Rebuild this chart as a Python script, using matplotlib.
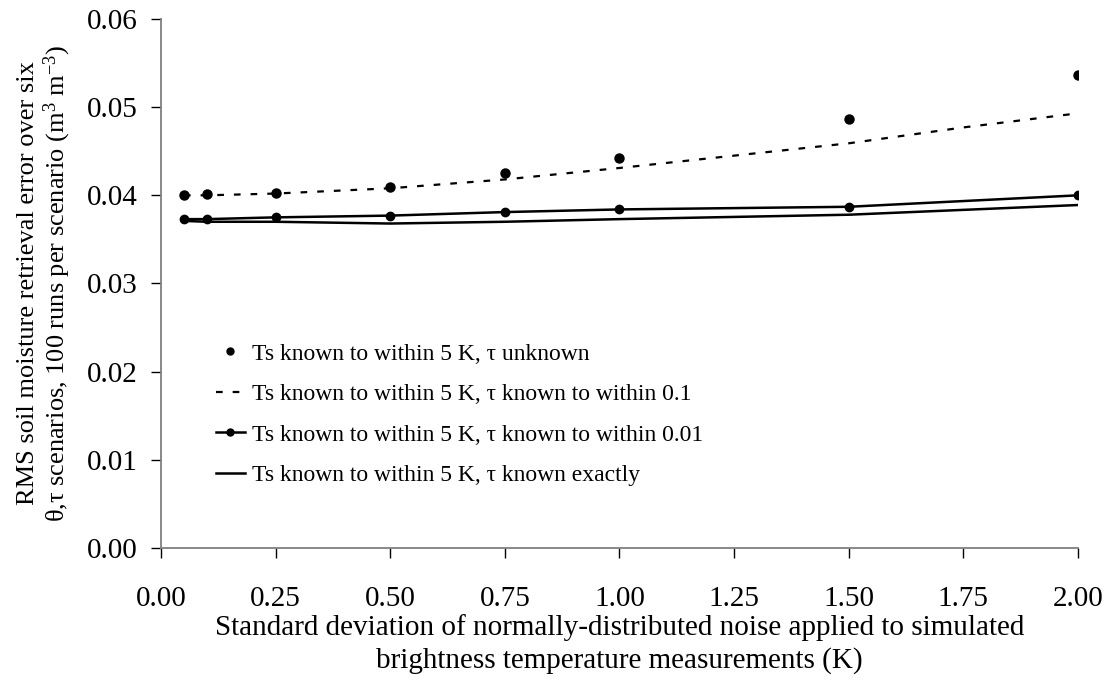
import matplotlib
matplotlib.use("Agg")
import matplotlib.pyplot as plt
from matplotlib.ticker import FormatStrFormatter

plt.rcParams['font.family'] = ['Liberation Serif', 'DejaVu Serif']
plt.rcParams['mathtext.fontset'] = 'custom'
plt.rcParams['mathtext.rm'] = 'Liberation Serif'
plt.rcParams['mathtext.it'] = 'Liberation Serif:italic'
plt.rcParams['mathtext.default'] = 'regular'

# Data
noise = [0.05, 0.10, 0.25, 0.50, 0.75, 1.00, 1.50, 2.00]
tau_unknown = [0.0400, 0.0401, 0.0403, 0.0410, 0.0425, 0.0442, 0.0487, 0.0536]
noise_trend = [0.05, 0.10, 0.25, 0.50, 0.75, 1.00, 1.25, 1.50, 1.75, 2.00]
tau_within_01 = [0.0400, 0.0400, 0.0402, 0.0408, 0.0418, 0.0431, 0.0445, 0.0459, 0.0477, 0.0493]
tau_within_001 = [0.0373, 0.0373, 0.0375, 0.0377, 0.0381, 0.0384, 0.0387, 0.0400]
tau_exact = [0.0371, 0.0370, 0.0370, 0.0368, 0.0370, 0.0373, 0.0378, 0.0389]

labels = [
    "Ts known to within 5 K, \u03c4 unknown",
    "Ts known to within 5 K, \u03c4 known to within 0.1",
    "Ts known to within 5 K, \u03c4 known to within 0.01",
    "Ts known to within 5 K, \u03c4 known exactly",
]
xticks = [0.00, 0.25, 0.50, 0.75, 1.00, 1.25, 1.50, 1.75, 2.00]
yticks = [0.00, 0.01, 0.02, 0.03, 0.04, 0.05, 0.06]

fig = plt.figure(figsize=(11.12, 6.8), dpi=100)
ax = fig.add_axes([0.1448, 0.1941, 0.8246, 0.7780])

ax.plot(noise, tau_unknown, linestyle='none', marker='o', color='black',
        markersize=6.5, label=labels[0])
ax.plot(noise_trend, tau_within_01, color='black', linewidth=1.6,
        dashes=(3.0, 4.5), label=labels[1])
ax.plot(noise, tau_within_001, color='black', linewidth=1.8, marker='o',
        markersize=6, label=labels[2])
ax.plot(noise, tau_exact, color='black', linewidth=1.8, label=labels[3])

ax.set_xlim(0, 2.0)
ax.set_ylim(0, 0.06)
ax.set_xticks(xticks)
ax.set_yticks(yticks)
ax.xaxis.set_major_formatter(FormatStrFormatter('%.2f'))
ax.yaxis.set_major_formatter(FormatStrFormatter('%.2f'))

for s in ['top', 'right']:
    ax.spines[s].set_visible(False)
for s in ['left', 'bottom']:
    ax.spines[s].set_color('#808080')
    ax.spines[s].set_linewidth(1.3)

ax.tick_params(axis='both', direction='out', length=7, width=1, color='black',
               labelsize=21)
ax.tick_params(axis='x', pad=20)
ax.tick_params(axis='y', pad=10)

ax.set_xlabel("Standard deviation of normally-distributed noise applied to simulated\n"
              "brightness temperature measurements (K)", fontsize=21, labelpad=2,
              linespacing=1.3)
ax.set_ylabel("RMS soil moisture retrieval error over six\n"
              "\u03b8,\u03c4 scenarios, 100 runs per scenario (m$^{3}$ m$^{-3}$)",
              fontsize=19, labelpad=10, linespacing=1.1)

leg = ax.legend(loc='upper left', bbox_to_anchor=(0.05, 0.405), frameon=False,
                fontsize=17, handlelength=1.2, handletextpad=0.3,
                labelspacing=0.8, borderaxespad=0)
for h in leg.legend_handles:
    h.set_markersize(5)

fig.savefig("out.png", dpi=100)
